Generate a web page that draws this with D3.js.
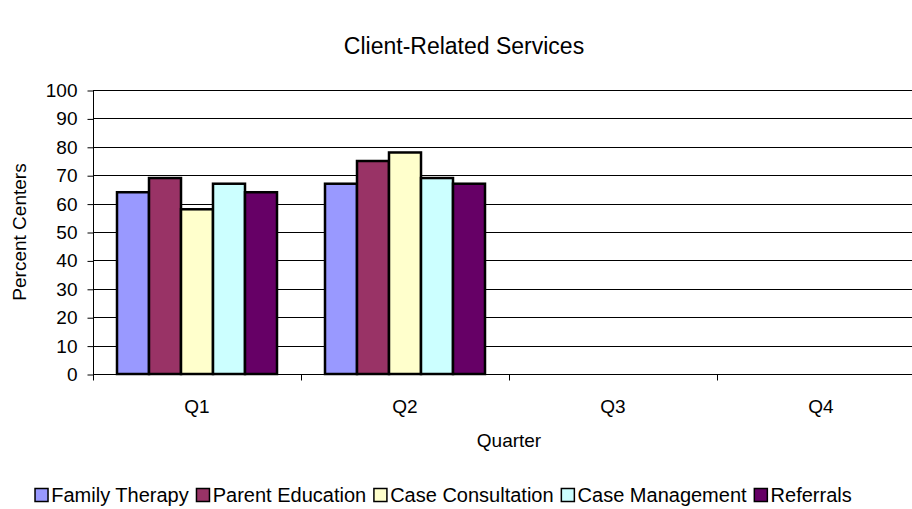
<!DOCTYPE html>
<html>
<head>
<meta charset="utf-8">
<script src="https://cdn.jsdelivr.net/npm/d3@7"></script>
<style>
  html, body { margin: 0; padding: 0; background: #fff; }
  svg { display: block; font-family: "Liberation Sans", Arial, sans-serif; }
</style>
</head>
<body>
<svg id="chart" width="912" height="509"></svg>
<script>
// Quarters on the category axis
const quarters = ["Q1", "Q2", "Q3", "Q4"];
// Service series (percent of centers per quarter; Q3/Q4 not yet reported)
const seriesNames = ["Family Therapy", "Parent Education", "Case Consultation", "Case Management", "Referrals"];
const familyTherapy     = [64, 67, null, null];
const parentEducation   = [69, 75, null, null];
const caseConsultation  = [58, 78, null, null];
const caseManagement    = [67, 69, null, null];
const referrals         = [64, 67, null, null];
const seriesColors = ["#9999FF", "#993366", "#FFFFCC", "#CCFFFF", "#660066"];
const yTicks = [0, 10, 20, 30, 40, 50, 60, 70, 80, 90, 100];

const seriesValues = [familyTherapy, parentEducation, caseConsultation, caseManagement, referrals];

const svg = d3.select("#chart");
const W = 912, H = 509;
const plot = { left: 93, right: 925, top: 90, bottom: 374 };
const labelFont = "19px";

const x0 = d3.scaleBand().domain(quarters).range([plot.left, plot.right]).padding(0);
const bw = x0.bandwidth();
const groupGap = bw * 24 / 208;
const x1 = d3.scaleBand().domain(seriesNames).range([groupGap, bw - groupGap]).padding(0);
const y = d3.scaleLinear().domain([0, 100]).range([plot.bottom, plot.top]);

// Horizontal gridlines
svg.append("g")
  .selectAll("line")
  .data(yTicks)
  .join("line")
  .attr("x1", plot.left).attr("x2", W)
  .attr("y1", d => Math.round(y(d)) + 0.5).attr("y2", d => Math.round(y(d)) + 0.5)
  .attr("stroke", "#000").attr("stroke-width", 1);

// Bars
const rows = [];
quarters.forEach((q, qi) => {
  seriesNames.forEach((s, si) => {
    const v = seriesValues[si][qi];
    if (v != null) rows.push({ q, s, v, c: seriesColors[si] });
  });
});
svg.append("g")
  .selectAll("rect")
  .data(rows)
  .join("rect")
  .attr("x", d => x0(d.q) + x1(d.s))
  .attr("y", d => y(d.v))
  .attr("width", x1.bandwidth())
  .attr("height", d => y(0) - y(d.v))
  .attr("fill", d => d.c)
  .attr("stroke", "#000")
  .attr("stroke-width", 2.5);

// Y axis
const yAxis = d3.axisLeft(y).tickValues(yTicks).tickSize(6).tickPadding(10).tickSizeOuter(0);
const gy = svg.append("g")
  .attr("transform", `translate(${plot.left + 0.5},0.5)`)
  .call(yAxis);
gy.select(".domain").attr("stroke", "#000");
gy.selectAll(".tick line").attr("stroke", "#000");
gy.selectAll(".tick text")
  .attr("fill", "#000")
  .style("font-size", labelFont)
  .style("font-family", "'Liberation Sans', Arial, sans-serif");
gy.select(".domain").attr("d", `M0,${y(100)}V${plot.bottom + 6}`);

// X axis: baseline plus ticks at category boundaries
const gx = svg.append("g").attr("transform", `translate(0,${Math.round(y(0)) + 0.5})`);
gx.append("line").attr("x1", plot.left).attr("x2", W).attr("stroke", "#000");
gx.selectAll("line.tk")
  .data(quarters.slice(1))
  .join("line")
  .attr("class", "tk")
  .attr("x1", d => Math.round(x0(d)) + 0.5).attr("x2", d => Math.round(x0(d)) + 0.5)
  .attr("y1", 0).attr("y2", 6)
  .attr("stroke", "#000");
gx.selectAll("text")
  .data(quarters)
  .join("text")
  .attr("x", d => x0(d) + bw / 2)
  .attr("y", 38)
  .attr("text-anchor", "middle")
  .style("font-size", labelFont)
  .text(d => d);

// Axis titles
svg.append("text")
  .attr("x", (plot.left + plot.right) / 2)
  .attr("y", 447)
  .attr("text-anchor", "middle")
  .style("font-size", labelFont)
  .text("Quarter");

svg.append("text")
  .attr("transform", `translate(26,${(plot.top + plot.bottom) / 2}) rotate(-90)`)
  .attr("text-anchor", "middle")
  .style("font-size", labelFont)
  .text("Percent Centers");

// Chart title
svg.append("text")
  .attr("x", 464)
  .attr("y", 54)
  .attr("text-anchor", "middle")
  .style("font-size", "23px")
  .text("Client-Related Services");

// Legend, laid out left to right
const legend = svg.append("g");
const sq = 13, sqGap = 4, itemGap = 7;
let cx = 0;
seriesNames.forEach((name, i) => {
  const it = legend.append("g").attr("transform", `translate(${cx},0)`);
  it.append("rect")
    .attr("x", 0.75).attr("y", -sq / 2)
    .attr("width", sq).attr("height", sq)
    .attr("fill", seriesColors[i]).attr("stroke", "#000").attr("stroke-width", 1.5);
  const t = it.append("text")
    .attr("x", sq + sqGap)
    .attr("y", 7)
    .style("font-size", "20px")
    .text(name);
  cx += sq + sqGap + t.node().getComputedTextLength() + itemGap;
});
cx -= itemGap;
legend.attr("transform", `translate(${443 - cx / 2},495)`);
</script>
</body>
</html>
